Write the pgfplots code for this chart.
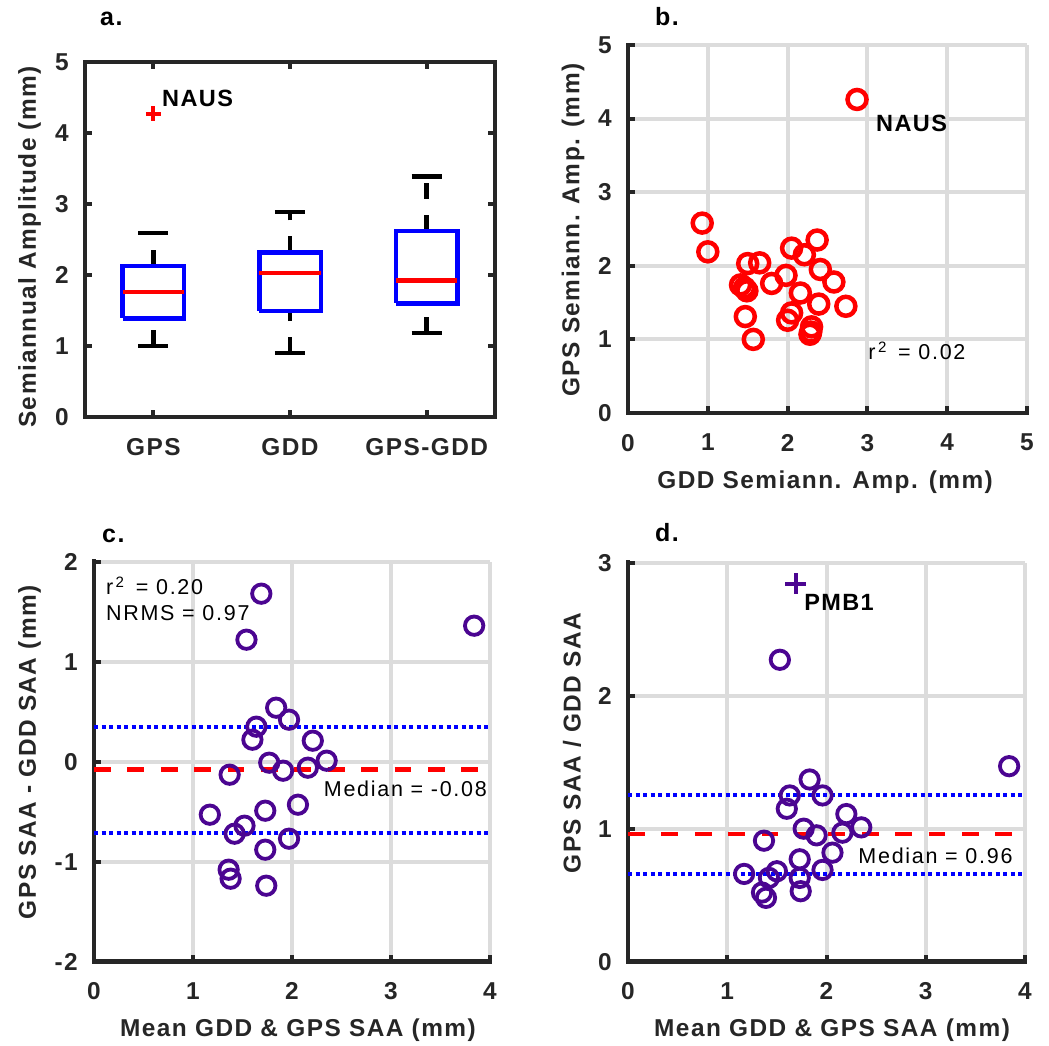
\documentclass[border=0pt]{standalone}
\usepackage{fontspec}
\setmainfont{Liberation Sans}
\usepackage{pgfplots}
\pgfplotsset{compat=1.18}

\definecolor{axgray}{RGB}{38,38,38}
\definecolor{gridgray}{RGB}{220,220,220}
\definecolor{ptpurple}{RGB}{75,5,145}

\newfontfamily\lsfont{Liberation Sans}[LetterSpace=6]
\newfontfamily\txfont{Liberation Sans}[LetterSpace=8]
\newfontfamily\tgfont{Liberation Sans}[LetterSpace=6]
\newcommand\tickfont{\lsfont\bfseries\fontsize{24.4}{26}\selectfont}
\newcommand\annfont{\txfont\fontsize{21.5}{23}\selectfont}
\newcommand\tagfont{\tgfont\bfseries\fontsize{23.5}{25}\selectfont}
\newcommand\ttlfont{\lsfont\bfseries\fontsize{25}{27}\selectfont}

\pgfplotsset{
  panel/.style={
    scale only axis,
    anchor=south west,
    axis line style={line width=4.5pt, color=axgray, line cap=rect},
    tick align=inside,
    major tick length=7pt,
    every tick/.style={line width=4pt, color=axgray},
    tick label style={font=\tickfont, text=axgray, inner sep=0pt},
    xticklabel style={anchor=north, yshift=-21pt},
    yticklabel style={anchor=east, xshift=-16pt},
    label style={font=\tickfont, text=axgray, inner sep=0pt, anchor=center},
    title style={font=\ttlfont, text=black, inner sep=0pt, anchor=base west},
    major grid style={line width=4pt, color=gridgray},
  },
  gridpanel/.style={
    panel,
    axis x line*=bottom,
    axis y line*=left,
    grid=major,
  },
  whisk/.style={black, line width=4.5pt, dash pattern=on 16pt off 16pt},
  cap/.style={black, line width=4.5pt},
  boxe/.style={blue, line width=4.5pt, line join=miter},
  med/.style={red, line width=4.5pt},
  ringred/.style={only marks, mark=o, mark size=9.5pt, red, mark options={line width=4.5pt}},
  ringpur/.style={only marks, mark=o, mark size=9.2pt, ptpurple, mark options={line width=3.8pt}},
  bounds/.style={blue, line width=4pt, dash pattern=on 4pt off 3.5pt},
  medline/.style={red, line width=4.5pt, dash pattern=on 16.7pt off 16.7pt},
}

\newcommand\rsq[1]{r\textsuperscript{\,2}\, = #1}

\begin{document}
\begin{tikzpicture}
\useasboundingbox (0pt,0pt) rectangle (1049pt,1046pt);

% ---------- a. box plots ----------
\begin{axis}[panel, at={(85pt,629pt)}, width=410pt, height=355pt,
  xmin=0.5, xmax=3.5, ymin=0, ymax=5,
  tick pos=both,
  xtick={1,2,3}, xticklabels={GPS,GDD,GPS-GDD},
  ytick={0,1,2,3,4,5}, yticklabels={0,1,2,3,4,5},
  ylabel={Semiannual Amplitude (mm)},
  ylabel style={at={(axis description cs:-0.1354,0.479)}},
  title={a.}, title style={at={(axis description cs:0.0366,1.0845)}},
]
% GPS
\addplot[whisk] coordinates {(1,1.00) (1,1.39)};
\addplot[whisk] coordinates {(1,2.13) (1,2.59)};
\addplot[cap] coordinates {(0.89,1.00) (1.11,1.00)};
\addplot[cap] coordinates {(0.89,2.59) (1.11,2.59)};
\addplot[boxe] coordinates {(0.775,1.39) (1.225,1.39) (1.225,2.13) (0.775,2.13) (0.775,1.39)};
\addplot[med] coordinates {(0.775,1.76) (1.225,1.76)};
% GDD
\addplot[whisk] coordinates {(2,0.90) (2,1.49)};
\addplot[whisk] coordinates {(2,2.32) (2,2.89)};
\addplot[cap] coordinates {(1.89,0.90) (2.11,0.90)};
\addplot[cap] coordinates {(1.89,2.89) (2.11,2.89)};
\addplot[boxe] coordinates {(1.775,1.49) (2.225,1.49) (2.225,2.32) (1.775,2.32) (1.775,1.49)};
\addplot[med] coordinates {(1.775,2.03) (2.225,2.03)};
% GPS-GDD
\addplot[whisk] coordinates {(3,1.18) (3,1.60)};
\addplot[whisk] coordinates {(3,2.62) (3,3.39)};
\addplot[cap] coordinates {(2.89,1.18) (3.11,1.18)};
\addplot[cap] coordinates {(2.89,3.39) (3.11,3.39)};
\addplot[boxe] coordinates {(2.775,1.60) (3.225,1.60) (3.225,2.62) (2.775,2.62) (2.775,1.60)};
\addplot[med] coordinates {(2.775,1.92) (3.225,1.92)};
% outlier
\addplot[only marks, mark=+, mark size=7.5pt, red, mark options={line width=4pt}] coordinates {(1,4.27)};
\node[font=\tagfont, anchor=base west, inner sep=0pt] at (axis cs:1.063,4.38) {NAUS};
\end{axis}

% ---------- b. GPS vs GDD ----------
\begin{axis}[gridpanel, at={(628pt,633pt)}, width=399pt, height=368pt,
  xmin=0, xmax=5, ymin=0, ymax=5,
  xtick={0,1,2,3,4,5}, xticklabels={0,1,2,3,4,5},
  ytick={0,1,2,3,4,5}, yticklabels={0,1,2,3,4,5},
  xlabel={GDD Semiann. Amp. (mm)},
  xlabel style={at={(axis description cs:0.494,-0.1875)}},
  ylabel={GPS Semiann. Amp. (mm)},
  ylabel style={at={(axis description cs:-0.138,0.497)}},
  title={b.}, title style={at={(axis description cs:0.0677,1.038)}},
]
\addplot[ringred] coordinates {
  (0.93,2.58) (1.00,2.19) (1.50,2.03) (1.65,2.04) (1.41,1.74)
  (1.46,1.70) (1.49,1.66) (1.47,1.31) (1.57,1.00) (1.80,1.76)
  (1.98,1.87) (2.05,2.24) (2.21,2.15) (2.37,2.35) (2.41,1.95)
  (2.58,1.78) (2.16,1.63) (2.39,1.48) (2.73,1.45) (2.05,1.36)
  (2.00,1.26) (2.30,1.17) (2.29,1.10) (2.28,1.07) (2.87,4.26)};
\node[font=\tagfont, anchor=base west, inner sep=0pt] at (axis cs:3.108,3.83) {NAUS};
\node[font=\annfont, anchor=base west, inner sep=0pt] at (axis cs:3.01,0.72) {\rsq{0.02}};
\end{axis}

% ---------- c. difference vs mean ----------
\begin{axis}[gridpanel, at={(94pt,84.3pt)}, width=396pt, height=400pt,
  xmin=0, xmax=4, ymin=-2, ymax=2,
  xtick={0,1,2,3,4}, xticklabels={0,1,2,3,4},
  ytick={-2,-1,0,1,2}, yticklabels={-2,-1,0,1,2},
  xlabel={Mean GDD \& GPS SAA (mm)},
  xlabel style={at={(axis description cs:0.515,-0.17)}},
  ylabel={GPS SAA - GDD SAA (mm)},
  ylabel style={at={(axis description cs:-0.163,0.524)}},
  title={c.}, title style={at={(axis description cs:0.02,1.032)}},
]
\addplot[ringpur] coordinates {
  (1.69,1.68) (1.54,1.22) (3.84,1.36) (1.84,0.54) (1.97,0.42)
  (1.64,0.35) (1.60,0.22) (2.21,0.21) (2.35,0.01) (1.77,-0.01)
  (1.91,-0.09) (2.16,-0.06) (1.37,-0.13) (1.17,-0.53) (1.73,-0.49)
  (2.06,-0.43) (1.52,-0.64) (1.42,-0.72) (1.97,-0.77) (1.73,-0.88)
  (1.36,-1.08) (1.38,-1.17) (1.74,-1.24)};
\addplot[bounds] coordinates {(0,0.35) (4,0.35)};
\addplot[bounds] coordinates {(0,-0.71) (4,-0.71)};
\addplot[medline] coordinates {(0,-0.08) (4,-0.08)};
\node[font=\annfont, anchor=base west, inner sep=0pt] at (axis cs:0.12,1.667) {\rsq{0.20}};
\node[font=\annfont, anchor=base west, inner sep=0pt] at (axis cs:0.12,1.407) {NRMS = 0.97};
\node[font=\annfont, anchor=base west, inner sep=0pt] at (axis cs:2.32,-0.35) {Median = -0.08};
\end{axis}

% ---------- d. ratio vs mean ----------
\begin{axis}[gridpanel, at={(628pt,84.3pt)}, width=397pt, height=399pt,
  xmin=0, xmax=4, ymin=0, ymax=3,
  xtick={0,1,2,3,4}, xticklabels={0,1,2,3,4},
  ytick={0,1,2,3}, yticklabels={0,1,2,3},
  xlabel={Mean GDD \& GPS SAA (mm)},
  xlabel style={at={(axis description cs:0.514,-0.171)}},
  ylabel={GPS SAA / GDD SAA},
  ylabel style={at={(axis description cs:-0.141,0.548)}},
  title={d.}, title style={at={(axis description cs:0.068,1.037)}},
]
\addplot[ringpur] coordinates {
  (1.53,2.27) (3.84,1.47) (1.83,1.37) (1.63,1.25) (1.96,1.25)
  (1.60,1.15) (2.20,1.11) (1.77,1.00) (1.90,0.95) (2.16,0.97)
  (2.35,1.01) (1.37,0.91) (2.06,0.82) (1.73,0.77) (1.96,0.69)
  (1.17,0.66) (1.50,0.68) (1.42,0.63) (1.73,0.63) (1.74,0.53)
  (1.35,0.52) (1.39,0.48)};
\addplot[only marks, mark=+, mark size=10.5pt, ptpurple, mark options={line width=4pt}] coordinates {(1.69,2.84)};
\addplot[bounds] coordinates {(0,1.25) (4,1.25)};
\addplot[bounds] coordinates {(0,0.66) (4,0.66)};
\addplot[medline] coordinates {(0,0.96) (4,0.96)};
\node[font=\tagfont, anchor=base west, inner sep=0pt] at (axis cs:1.774,2.64) {PMB1};
\node[font=\annfont, anchor=base west, inner sep=0pt] at (axis cs:2.32,0.735) {Median = 0.96};
\end{axis}
\end{tikzpicture}
\end{document}
